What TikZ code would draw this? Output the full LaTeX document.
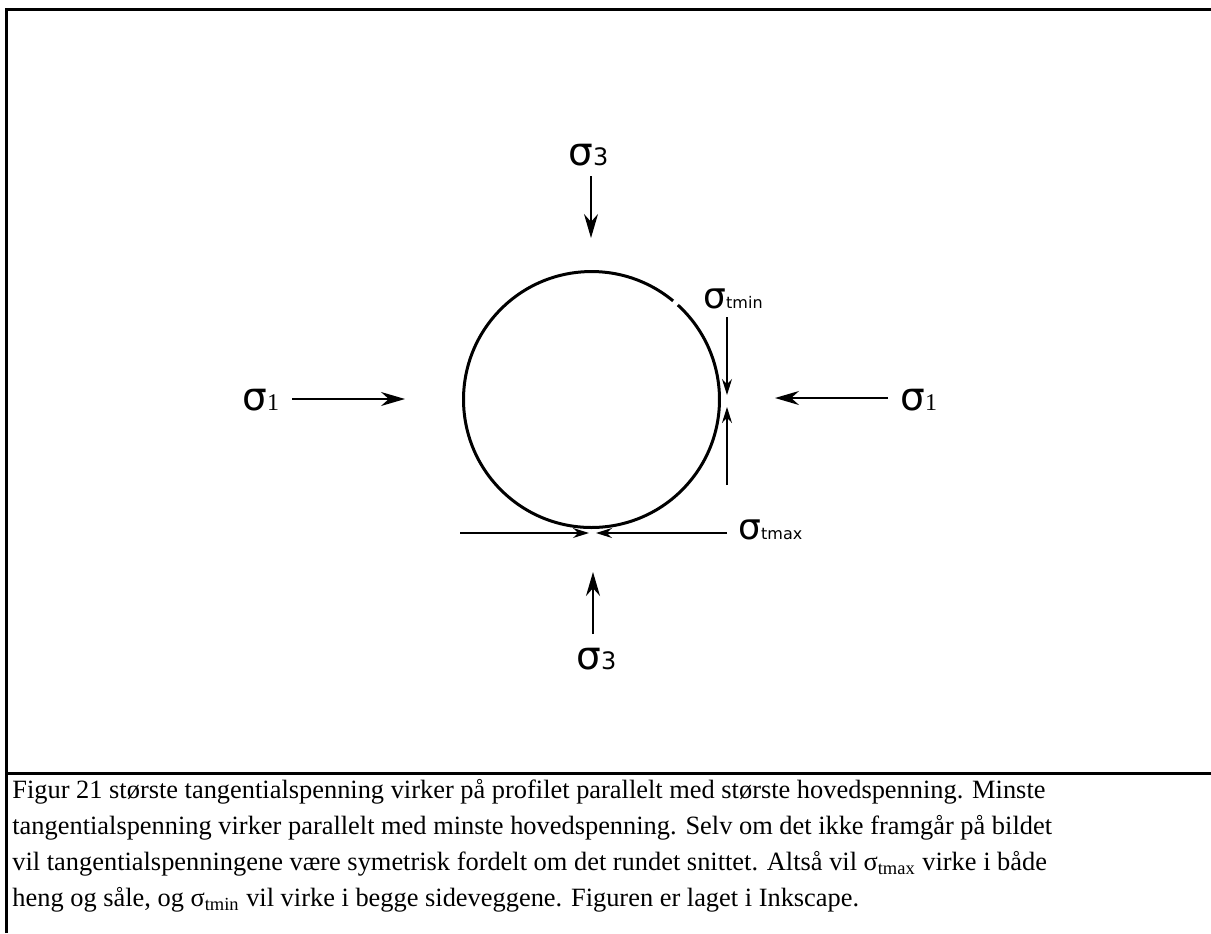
\documentclass[tikz,border=0pt]{standalone}
\usepackage{fontspec}
\setmainfont{Liberation Serif}
\newfontfamily\lblfont{DejaVu Sans}
\usepackage{tikz}
\usetikzlibrary{positioning, arrows.meta}
\newcommand{\sgm}[2]{σ{\fontsize{#1}{#1}\selectfont #2}}

\begin{document}
\begin{tikzpicture}[x=0.5pt,y=-0.5pt,frm/.style={line width=1.5pt},force/.style={line width=0.75pt, -{Stealth[length=12pt,width=7pt]}},tang/.style={line width=0.6pt, -{Stealth[length=8pt,width=5pt]}},sig/.style={inner sep=0pt, anchor=base west, font=\lblfont\fontsize{19.5}{20}\selectfont}]
\useasboundingbox (0,0) rectangle (1211,933);
\draw[frm] (6,933) -- (6,9) -- (1211,9);
\draw[frm] (6,773) -- (1211,773);
\coordinate (ctr) at (591.5,399.5);
\draw[line width=1.5pt] (ctr) ++(-47.6:128) arc[start angle=-47.6, end angle=309.6, radius=128];
\node[sig] (s1L) at (242,410) {\sgm{12}{\rmfamily 1}};
\node[sig] (s1R) at (900,410) {\sgm{12}{\rmfamily 1}};
\node[sig] (s3T) at (568,165) {\sgm{12}{3}};
\node[sig] (s3B) at (576,669) {\sgm{12}{3}};
\node[sig, font=\lblfont\fontsize{18}{20}\selectfont] (stmin) at (703,308) {\sgm{8}{tmin}};
\node[sig, font=\lblfont\fontsize{18}{20}\selectfont] (stmax) at (738,539) {\sgm{8}{tmax}};
\coordinate (s1Lt) at (292,399);
\coordinate (s1Lh) at (405,399);
\coordinate (s1Rt) at (888,398);
\coordinate (s1Rh) at (775,398);
\coordinate (s3Tt) at (591,176);
\coordinate (s3Th) at (591,238);
\coordinate (s3Bt) at (593,634);
\coordinate (s3Bh) at (593,572);
\coordinate (minAt) at (727,317);
\coordinate (minAh) at (727,395);
\coordinate (minBt) at (727,485);
\coordinate (minBh) at (727,407);
\coordinate (maxAt) at (460,533);
\coordinate (maxAh) at (589,533);
\coordinate (maxBt) at (727,533);
\coordinate (maxBh) at (596,533);
\draw[force] (s1Lt) -- (s1Lh);
\draw[force] (s1Rt) -- (s1Rh);
\draw[force] (s3Tt) -- (s3Th);
\draw[force] (s3Bt) -- (s3Bh);
\draw[tang] (minAt) -- (minAh);
\draw[tang] (minBt) -- (minBh);
\draw[tang] (maxAt) -- (maxAh);
\draw[tang] (maxBt) -- (maxBh);
\node[anchor=north west, inner sep=0pt, align=left, font=\fontsize{13.2}{18}\selectfont] (caption) at (12,779) {Figur 21 største tangentialspenning virker på profilet parallelt med største hovedspenning. Minste\\tangentialspenning virker parallelt med minste hovedspenning. Selv om det ikke framgår på bildet\\vil tangentialspenningene være symetrisk fordelt om det rundet snittet. Altså vil σ\textsubscript{tmax} virke i både\\heng og såle, og σ\textsubscript{tmin} vil virke i begge sideveggene. Figuren er laget i Inkscape.};
\end{tikzpicture}
\end{document}
